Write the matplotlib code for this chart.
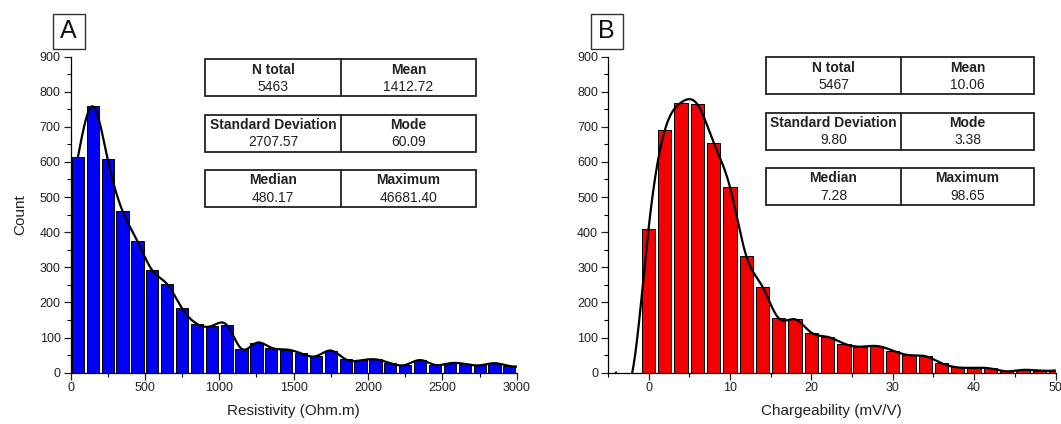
import numpy as np
import matplotlib
matplotlib.use("Agg")
import matplotlib.pyplot as plt
from matplotlib.patches import Rectangle
from matplotlib.ticker import MultipleLocator

plt.rcParams['font.family'] = ['Liberation Sans', 'DejaVu Sans']

# ---------------- data ----------------
# Panel A: resistivity histogram (bin width 100, centres 50..)
a_bin_width = 100
a_centers = np.arange(50, 3100, 100)
a_counts = [614, 758, 607, 460, 374, 291, 252, 183, 139, 133, 136, 68, 85, 71, 66,
            55, 47, 63, 38, 35, 38, 27, 22, 36, 22, 27, 25, 21, 27, 19, 18]

# Panel B: chargeability histogram (bin width 2, centres -4..50)
b_bin_width = 2
b_centers = np.arange(-4, 52, 2)
b_counts = [0, 0, 408, 690, 769, 764, 655, 529, 333, 245, 155, 152, 114, 102, 83, 74,
            76, 63, 50, 47, 27, 15, 14, 12, 4, 8, 6, 6]

a_stats = [("N total", "5463"), ("Mean", "1412.72"),
           ("Standard Deviation", "2707.57"), ("Mode", "60.09"),
           ("Median", "480.17"), ("Maximum", "46681.40")]
b_stats = [("N total", "5467"), ("Mean", "10.06"),
           ("Standard Deviation", "9.80"), ("Mode", "3.38"),
           ("Median", "7.28"), ("Maximum", "98.65")]


def natural_spline(x, y, xs):
    x = np.asarray(x, float)
    y = np.asarray(y, float)
    n = len(x)
    h = np.diff(x)
    A = np.zeros((n, n))
    r = np.zeros(n)
    A[0, 0] = 1
    A[-1, -1] = 1
    for i in range(1, n - 1):
        A[i, i - 1] = h[i - 1]
        A[i, i] = 2 * (h[i - 1] + h[i])
        A[i, i + 1] = h[i]
        r[i] = 6 * ((y[i + 1] - y[i]) / h[i] - (y[i] - y[i - 1]) / h[i - 1])
    M = np.linalg.solve(A, r)
    idx = np.clip(np.searchsorted(x, xs) - 1, 0, n - 2)
    x0, x1 = x[idx], x[idx + 1]
    hh = x1 - x0
    t0 = x1 - xs
    t1 = xs - x0
    return (M[idx] * t0 ** 3 / (6 * hh) + M[idx + 1] * t1 ** 3 / (6 * hh)
            + (y[idx] / hh - M[idx] * hh / 6) * t0
            + (y[idx + 1] / hh - M[idx + 1] * hh / 6) * t1)


W, H = 1061, 424
fig = plt.figure(figsize=(W / 100, H / 100), dpi=100)


def px_box(l, t, r, b):
    return [l / W, 1 - b / H, (r - l) / W, (b - t) / H]


axA = fig.add_axes(px_box(70.5, 56.5, 516.8, 372.7))
axB = fig.add_axes(px_box(607.8, 56.5, 1055.5, 372.7))


def style(ax, xlim, xmaj, xmin, xlabel, ylabel):
    ax.set_xlim(*xlim)
    ax.set_ylim(0, 900)
    ax.xaxis.set_major_locator(MultipleLocator(xmaj))
    ax.xaxis.set_minor_locator(MultipleLocator(xmin))
    ax.yaxis.set_major_locator(MultipleLocator(100))
    ax.yaxis.set_minor_locator(MultipleLocator(50))
    for s in ['top', 'right']:
        ax.spines[s].set_visible(False)
    for s in ['left', 'bottom']:
        ax.spines[s].set_linewidth(0.9)
    ax.tick_params(which='major', direction='out', length=5, width=0.9,
                   labelsize=9, pad=2, colors='#222222')
    ax.tick_params(which='minor', direction='out', length=3, width=0.8)
    ax.set_xlabel(xlabel, fontsize=11, labelpad=7, color='#222222')
    if ylabel:
        ax.set_ylabel(ylabel, fontsize=11, labelpad=9, color='#222222')


# Panel A
axA.bar(a_centers, a_counts, width=0.82 * a_bin_width, color='#0000F5',
        edgecolor='black', linewidth=0.7, zorder=2)
xa = np.linspace(a_centers[0], a_centers[-1], 1500)
axA.plot(xa, natural_spline(a_centers, a_counts, xa), color='black', lw=1.6, zorder=3)
style(axA, (0, 3000), 500, 250, 'Resistivity (Ohm.m)', 'Count')

# Panel B
axB.bar(b_centers, b_counts, width=0.82 * b_bin_width, color='#F50000',
        edgecolor='black', linewidth=0.7, zorder=2)
xb = np.linspace(b_centers[0], b_centers[-1], 1500)
axB.plot(xb, natural_spline(b_centers, b_counts, xb), color='black', lw=1.6, zorder=3)
style(axB, (-5, 50), 10, 5, 'Chargeability (mV/V)', None)


def px_rect(l, t, r, b, **kw):
    fig.add_artist(Rectangle((l / W, 1 - b / H), (r - l) / W, (b - t) / H,
                             transform=fig.transFigure, fill=False, **kw))


def table(stats, left, mid, right, rows):
    for k, (top, bot) in enumerate(rows):
        px_rect(left, top, right, bot, edgecolor='#222222', linewidth=1.3)
        fig.add_artist(plt.Line2D([mid / W, mid / W], [1 - top / H, 1 - bot / H],
                                  transform=fig.transFigure, color='#222222', lw=1.3))
        for j, (cl, cr) in enumerate([(left, mid), (mid, right)]):
            head, val = stats[2 * k + j]
            cx = (cl + cr) / 2 / W
            fig.text(cx, 1 - (top + 10.5) / H, head, ha='center', va='center',
                     fontsize=10, fontweight='bold', color='#222222')
            fig.text(cx, 1 - (top + 28) / H, val, ha='center', va='center',
                     fontsize=10, color='#222222')


rowsA = [(59, 96), (114.5, 151.5), (170, 207)]
table(a_stats, 205, 341, 476, rowsA)
table(b_stats, 766, 901, 1034, [(57, 94), (112.5, 149.5), (168, 205)])

# panel letters
for l, r, letter in [(52.7, 84.5, 'A'), (590.5, 622.5, 'B')]:
    px_rect(l, 13.5, r, 48.5, edgecolor='#333333', linewidth=1.0)
    fig.text((l + r) / 2 / W, 1 - 31.5 / H, letter, ha='center', va='center',
             fontsize=18, color='#111111')

fig.savefig('out.png', dpi=100)
